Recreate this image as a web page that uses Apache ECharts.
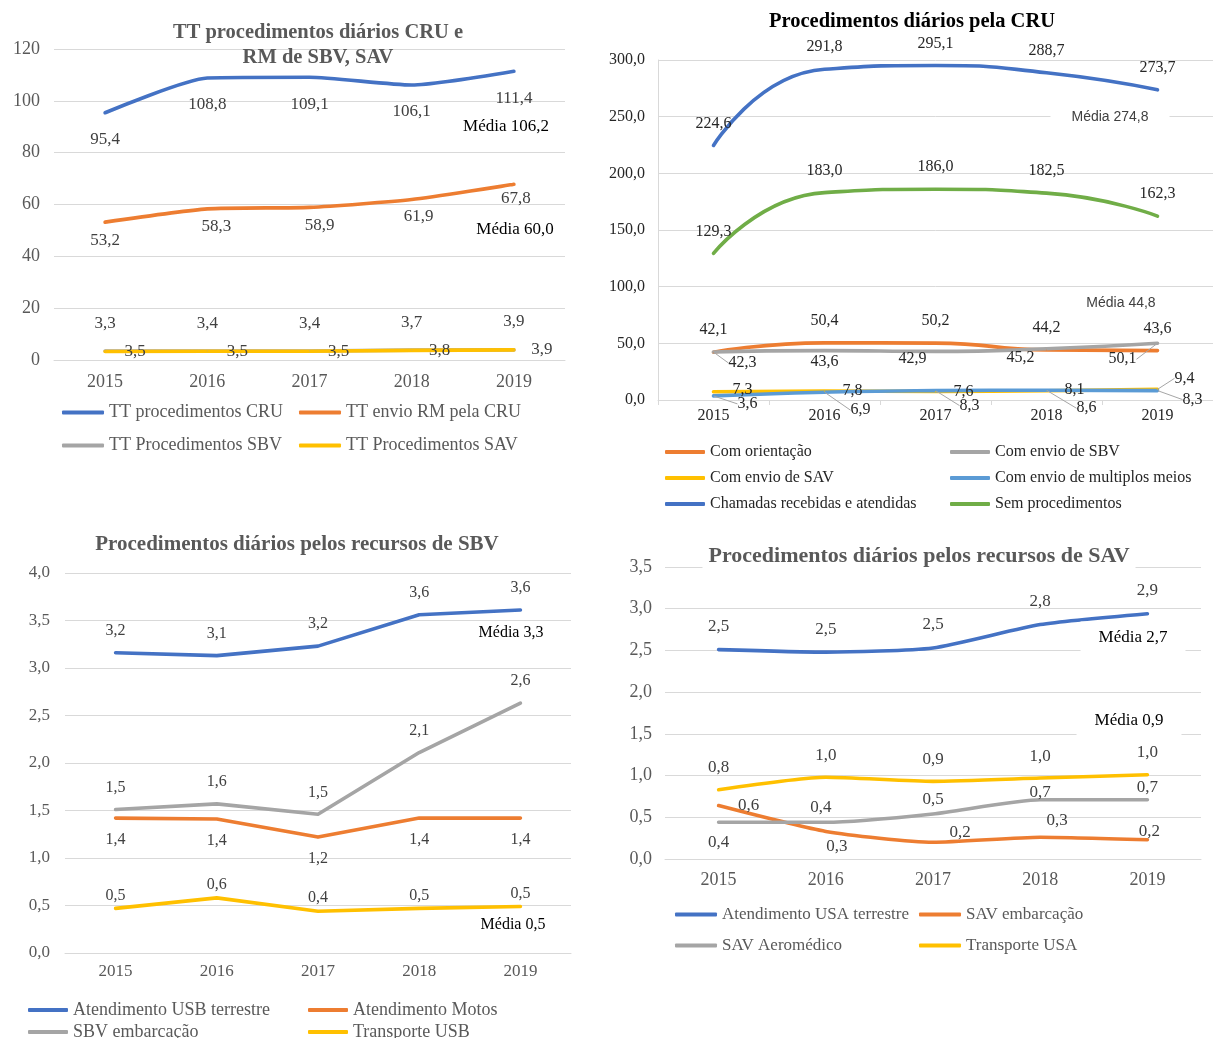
<!DOCTYPE html>
<html>
<head>
<meta charset="utf-8">
<script src="https://cdn.jsdelivr.net/npm/echarts@6/dist/echarts.min.js"></script>
<style>
  html, body { margin: 0; padding: 0; background: #ffffff; }
  #chart { width: 1213px; height: 1038px; }
</style>
</head>
<body>
<div id="chart"></div>
<script>
// Anos (eixo das categorias, comum aos quatro painéis)
const years = ['2015', '2016', '2017', '2018', '2019'];

// Painel 1 — TT procedimentos diários CRU e RM de SBV, SAV
const ttCru = [95.4, 108.8, 109.1, 106.1, 111.4];
const ttEnvioRm = [53.2, 58.3, 58.9, 61.9, 67.8];
const ttSbv = [3.5, 3.5, 3.5, 3.8, 3.9];
const ttSav = [3.3, 3.4, 3.4, 3.7, 3.9];
const ttTicks = [0, 20, 40, 60, 80, 100, 120];

// Painel 2 — Procedimentos diários pela CRU
const comOrientacao = [42.1, 50.4, 50.2, 44.2, 43.6];
const comEnvioSbv = [42.3, 43.6, 42.9, 45.2, 50.1];
const comEnvioSav = [7.3, 7.8, 7.6, 8.1, 9.4];
const comMultiplos = [3.6, 6.9, 8.3, 8.6, 8.3];
const chamadas = [224.6, 291.8, 295.1, 288.7, 273.7];
const semProcedimentos = [129.3, 183.0, 186.0, 182.5, 162.3];
const cruTicks = [0, 50, 100, 150, 200, 250, 300];

// Painel 3 — Procedimentos diários pelos recursos de SBV
const usbTerrestre = [3.16, 3.13, 3.23, 3.56, 3.61];
const atendMotos = [1.42, 1.41, 1.22, 1.42, 1.42];
const sbvEmbarcacao = [1.51, 1.57, 1.46, 2.11, 2.63];
const transporteUsb = [0.47, 0.58, 0.44, 0.47, 0.49];
const sbvTicks = [0, 0.5, 1, 1.5, 2, 2.5, 3, 3.5, 4];

// Painel 4 — Procedimentos diários pelos recursos de SAV
const usaTerrestre = [2.51, 2.48, 2.53, 2.81, 2.94];
const savEmbarcacao = [0.64, 0.33, 0.20, 0.26, 0.23];
const savAeromedico = [0.44, 0.44, 0.54, 0.71, 0.71];
const transporteUsa = [0.83, 0.98, 0.93, 0.97, 1.01];
const savTicks = [0, 0.5, 1, 1.5, 2, 2.5, 3, 3.5];

// Médias anotadas
const mediasTt = ['Média 106,2', 'Média 60,0'];
const mediasCru = ['Média 274,8', 'Média 44,8'];
const mediasSbv = ['Média 3,3', 'Média 0,5'];
const mediasSav = ['Média 2,7', 'Média 0,9'];

const SERIF = '"Liberation Serif", "Times New Roman", serif';
const SANS = '"Liberation Sans", Arial, sans-serif';
const C = {
  blue: '#4472C4', orange: '#ED7D31', gray: '#A5A5A5',
  yellow: '#FFC000', lightBlue: '#5B9BD5', green: '#70AD47'
};
const comma1 = v => v.toFixed(1).replace('.', ',');

// Deslocamentos dos rótulos de dados em relação a cada ponto [dx, dy]
const same = (dx, dy) => years.map(() => [dx, dy]);
const offs = {
  ttCru: same(0, 27),
  ttEnvioRm: [[0, 18], [9, 18], [10, 18], [7, 17], [2, 14]],
  ttSbv: [[30, 1], [30, 1], [29, 1], [28, 0], [28, 0]],
  ttSav: same(0, -28),
  comOrientacao: same(0, -22),
  comEnvioSbv: [[29, 11], [0, 11], [-23, 7], [-26, 9], [-35, 16]],
  comEnvioSav: [[29, -2], [28, 0], [28, 0], [28, -1], [27, -11]],
  comMultiplos: [[34, 8], [36, 18], [34, 15], [40, 18], [35, 9]],
  chamadas: same(0, -22),
  semProcedimentos: same(0, -22),
  usbTerrestre: same(0, -22),
  atendMotos: same(0, 22),
  sbvEmbarcacao: same(0, -22),
  transporteUsb: same(0, -13),
  usaTerrestre: same(0, -23),
  savEmbarcacao: [[30, 0], [11, 15], [27, -10], [17, -17], [2, -8]],
  savAeromedico: [[0, 20], [-5, -15], [0, -14], [0, -7], [0, -12]],
  transporteUsa: same(0, -22)
};
// Pontos cujo rótulo tem linha de chamada
const leaders = {
  comEnvioSbv: [true, false, false, false, true],
  comEnvioSav: [false, false, false, false, true],
  comMultiplos: [true, true, true, true, true]
};

function line(name, key, values, color, gridIndex, opt) {
  opt = opt || {};
  const off = offs[key];
  const lead = leaders[key];
  return {
    type: 'line',
    name: name,
    xAxisIndex: gridIndex,
    yAxisIndex: gridIndex,
    smooth: opt.smooth || false,
    symbol: 'circle',
    symbolSize: 1,
    showSymbol: true,
    color: color,
    itemStyle: { color: color },
    lineStyle: { color: color, width: 3.6, cap: 'round', join: 'round' },
    emphasis: { disabled: true },
    data: values.map((v, i) => lead && lead[i]
      ? { value: v, labelLine: { show: true, lineStyle: { color: '#a6a6a6', width: 1 } } }
      : v),
    label: {
      show: true,
      position: 'inside',
      formatter: p => comma1(p.value),
      fontFamily: SERIF,
      fontSize: opt.labelSize || 17,
      color: opt.labelColor || '#404040'
    },
    labelLine: { show: false, smooth: false, length2: 0 },
    labelLayout: p => ({ dx: off[p.dataIndex][0], dy: off[p.dataIndex][1] })
  };
}

const grids = [
  { left: 54, top: 49, width: 511, height: 311 },
  { left: 658, top: 60, width: 555, height: 340 },
  { left: 65, top: 573, width: 506, height: 380 },
  { left: 665, top: 567, width: 536, height: 292 }
];

const yDefs = [
  { ticks: ttTicks, fmt: v => String(v), size: 18, color: '#595959', margin: 14, line: false },
  { ticks: cruTicks, fmt: comma1, size: 16, color: '#262626', margin: 13, line: true },
  { ticks: sbvTicks, fmt: comma1, size: 17, color: '#595959', margin: 15, line: false },
  { ticks: savTicks, fmt: comma1, size: 18, color: '#595959', margin: 13, line: false }
];
const xDefs = [
  { size: 18, color: '#595959', margin: 13, ticks: false },
  { size: 16, color: '#262626', margin: 8, ticks: true },
  { size: 17, color: '#595959', margin: 10, ticks: false },
  { size: 18, color: '#595959', margin: 12, ticks: false }
];

const yAxes = yDefs.map((d, i) => ({
  type: 'value',
  gridIndex: i,
  min: d.ticks[0],
  max: d.ticks[d.ticks.length - 1],
  interval: d.ticks[1] - d.ticks[0],
  axisLine: { show: d.line, lineStyle: { color: '#d9d9d9' } },
  axisTick: { show: false },
  splitLine: { lineStyle: { color: '#d9d9d9', width: 1 } },
  axisLabel: { formatter: d.fmt, fontFamily: SERIF, fontSize: d.size, color: d.color, margin: d.margin }
}));
const xAxes = xDefs.map((d, i) => ({
  type: 'category',
  gridIndex: i,
  data: years,
  boundaryGap: true,
  axisLine: { show: true, lineStyle: { color: '#d9d9d9' } },
  axisTick: { show: d.ticks, length: 5, lineStyle: { color: '#d9d9d9' } },
  axisLabel: { fontFamily: SERIF, fontSize: d.size, color: d.color, margin: d.margin }
}));

const cruLabel = { smooth: 0.55, labelSize: 16, labelColor: '#262626' };
const series = [
  line('TT procedimentos CRU', 'ttCru', ttCru, C.blue, 0, { smooth: 0.2 }),
  line('TT envio RM pela CRU', 'ttEnvioRm', ttEnvioRm, C.orange, 0, { smooth: 0.2 }),
  line('TT Procedimentos SBV', 'ttSbv', ttSbv, C.gray, 0),
  line('TT Procedimentos SAV', 'ttSav', ttSav, C.yellow, 0),

  line('Com orientação', 'comOrientacao', comOrientacao, C.orange, 1, cruLabel),
  line('Com envio de SBV', 'comEnvioSbv', comEnvioSbv, C.gray, 1, cruLabel),
  line('Com envio de SAV', 'comEnvioSav', comEnvioSav, C.yellow, 1, cruLabel),
  line('Com envio de multiplos meios', 'comMultiplos', comMultiplos, C.lightBlue, 1, cruLabel),
  line('Chamadas recebidas e atendidas', 'chamadas', chamadas, C.blue, 1, cruLabel),
  line('Sem procedimentos', 'semProcedimentos', semProcedimentos, C.green, 1, cruLabel),

  line('Atendimento USB terrestre', 'usbTerrestre', usbTerrestre, C.blue, 2, { labelSize: 16 }),
  line('Atendimento Motos', 'atendMotos', atendMotos, C.orange, 2, { labelSize: 16 }),
  line('SBV embarcação', 'sbvEmbarcacao', sbvEmbarcacao, C.gray, 2, { labelSize: 16 }),
  line('Transporte USB', 'transporteUsb', transporteUsb, C.yellow, 2, { labelSize: 16 }),

  line('Atendimento USA terrestre', 'usaTerrestre', usaTerrestre, C.blue, 3, { smooth: 0.2 }),
  line('SAV embarcação', 'savEmbarcacao', savEmbarcacao, C.orange, 3, { smooth: 0.2 }),
  line('SAV Aeromédico', 'savAeromedico', savAeromedico, C.gray, 3, { smooth: 0.2 }),
  line('Transporte USA', 'transporteUsa', transporteUsa, C.yellow, 3, { smooth: 0.2 })
];

function legend(names, left, top, itemW, textW, gap, size, lh, color) {
  return {
    data: names,
    left: left, top: top,
    width: 2 * (itemW + 5 + textW + gap) + 4,
    orient: 'horizontal',
    icon: 'roundRect',
    itemWidth: itemW, itemHeight: 4, itemGap: gap,
    padding: 0,
    selectedMode: false,
    textStyle: { fontFamily: SERIF, fontSize: size, color: color, width: textW, lineHeight: lh, overflow: 'none' }
  };
}

const legends = [
  legend(['TT procedimentos CRU', 'TT envio RM pela CRU', 'TT Procedimentos SBV', 'TT Procedimentos SAV'],
    62, 400, 42, 182, 8, 18, 25, '#595959'),
  legend(['Com orientação', 'Com envio de SBV', 'Com envio de SAV', 'Com envio de multiplos meios',
    'Chamadas recebidas e atendidas', 'Sem procedimentos'],
    665, 442, 40, 234, 6, 16, 20, '#262626'),
  legend(['Atendimento USB terrestre', 'Atendimento Motos', 'SBV embarcação', 'Transporte USB'],
    28, 1001, 40, 231, 4, 18, 18, '#595959'),
  legend(['Atendimento USA terrestre', 'SAV embarcação', 'SAV Aeromédico', 'Transporte USA'],
    675, 901, 42, 193, 4, 17, 27, '#595959')
];

function txt(text, x, y, font, fill, extra) {
  return {
    type: 'text', x: x, y: y, silent: true, z: 100,
    style: Object.assign({
      text: text, font: font, fill: fill,
      align: 'center', verticalAlign: 'middle',
      textAlign: 'center', textVerticalAlign: 'middle'
    }, extra || {})
  };
}
const boxed = { backgroundColor: '#ffffff' };

const graphics = [
  // Títulos
  txt('TT procedimentos diários CRU e\nRM de SBV, SAV', 318, 45, 'bold 20.5px ' + SERIF, '#595959', { lineHeight: 25 }),
  txt('Procedimentos diários pela CRU', 912, 22, 'bold 20.5px ' + SERIF, '#000000'),
  txt('Procedimentos diários pelos recursos de SBV', 297, 545, 'bold 21px ' + SERIF, '#595959'),
  txt('Procedimentos diários pelos recursos de SAV', 919, 556, 'bold 22px ' + SERIF, '#595959',
    Object.assign({ padding: [2, 6] }, boxed)),
  // Médias
  txt(mediasTt[0], 506, 127, '17px ' + SERIF, '#000000'),
  txt(mediasTt[1], 515, 230, '17px ' + SERIF, '#000000'),
  txt(mediasCru[0], 1110, 117, '14px ' + SANS, '#404040', Object.assign({ padding: [8, 21] }, boxed)),
  txt(mediasCru[1], 1121, 303, '14px ' + SANS, '#404040', Object.assign({ padding: [11, 16, 5, 16] }, boxed)),
  txt(mediasSbv[0], 511, 633, '16px ' + SERIF, '#000000'),
  txt(mediasSbv[1], 513, 925, '16px ' + SERIF, '#000000'),
  txt(mediasSav[0], 1133, 638, '17px ' + SERIF, '#000000', Object.assign({ padding: [8, 18] }, boxed)),
  txt(mediasSav[1], 1129, 721, '17px ' + SERIF, '#000000', Object.assign({ padding: [14, 18] }, boxed))
];

const chart = echarts.init(document.getElementById('chart'), null, { renderer: 'canvas' });
chart.setOption({
  backgroundColor: '#ffffff',
  animation: false,
  grid: grids,
  xAxis: xAxes,
  yAxis: yAxes,
  legend: legends,
  series: series,
  graphic: graphics
});
</script>
</body>
</html>
